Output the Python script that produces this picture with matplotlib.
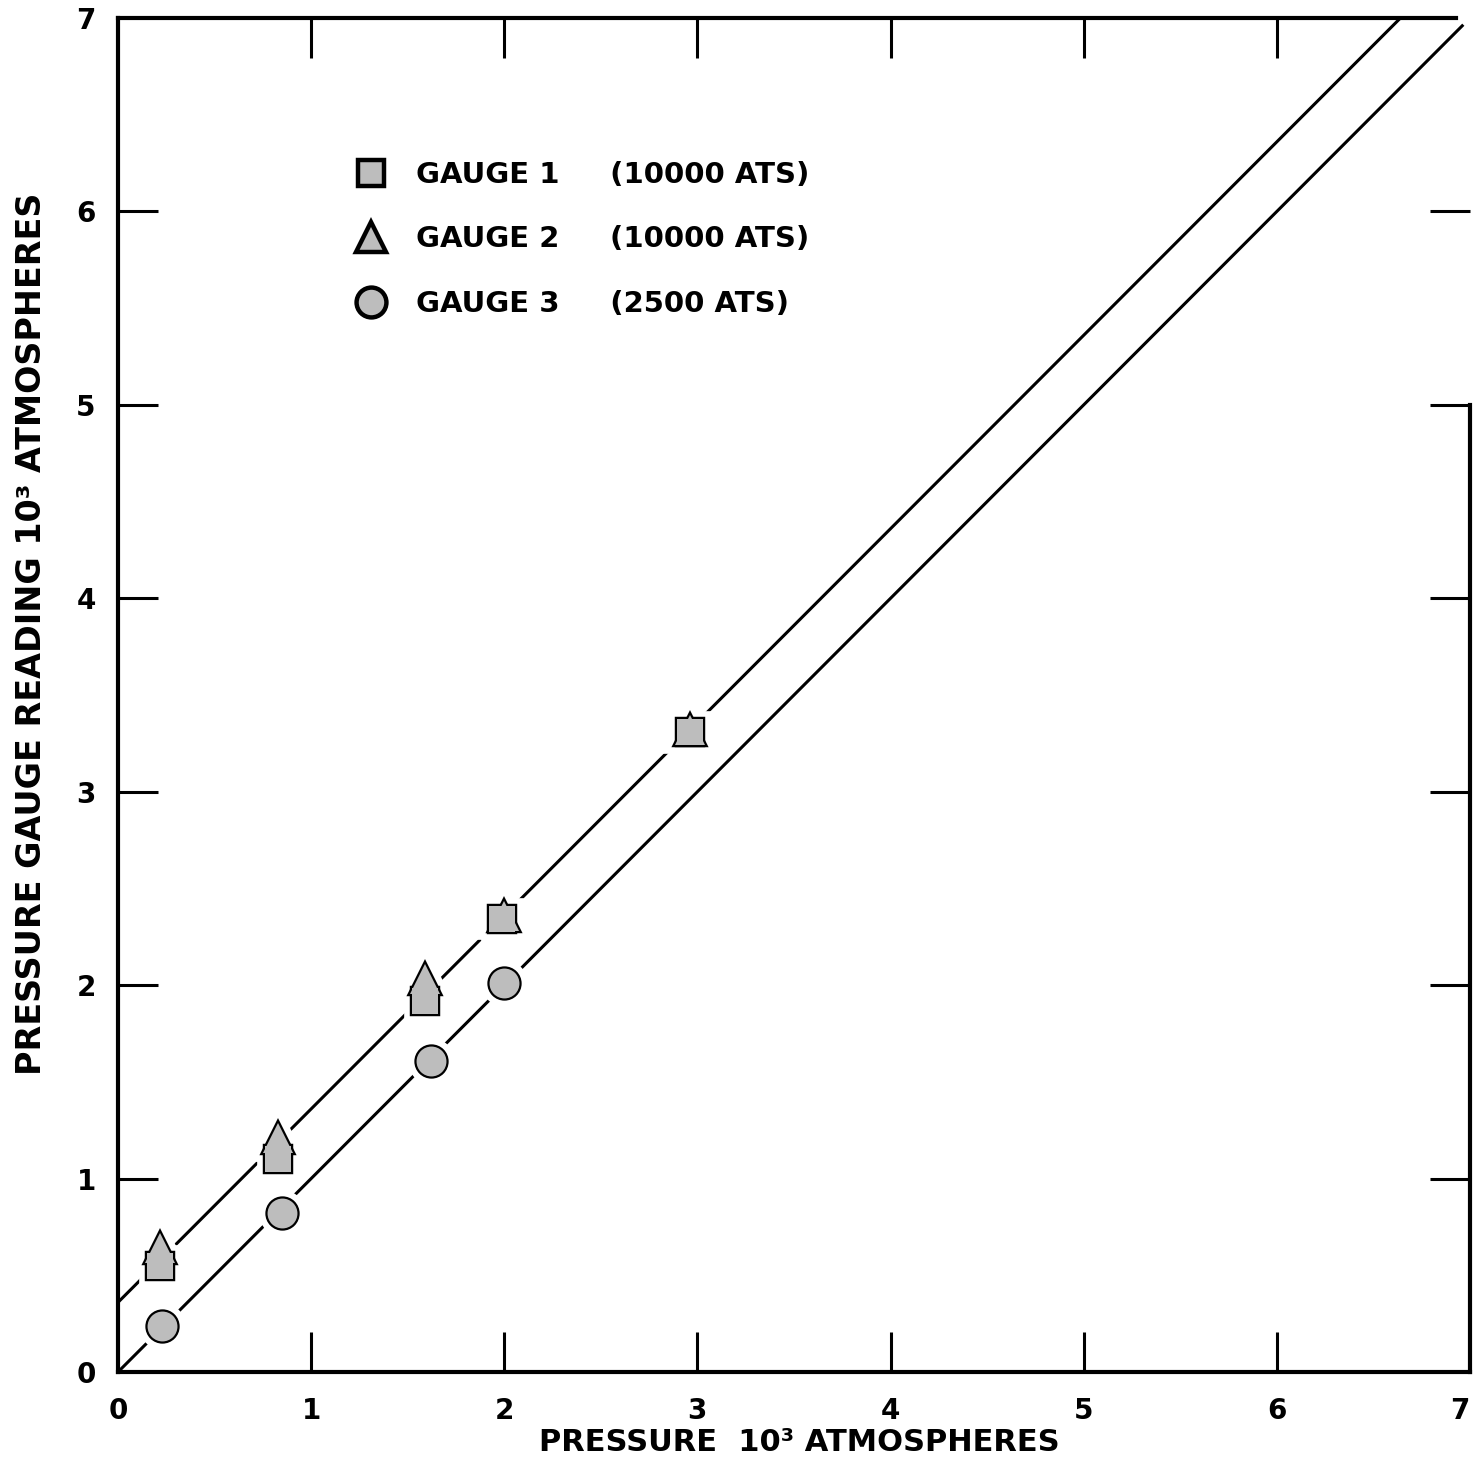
import numpy as np
import matplotlib.pyplot as plt

# readings (pressure, gauge reading), in 10^3 atmospheres
g1_x = [0.22, 0.83, 1.59, 1.99, 2.96]
g1_y = [0.55, 1.10, 1.92, 2.34, 3.31]
g2_x = [0.22, 0.83, 1.59, 2.00, 2.96]
g2_y = [0.64, 1.21, 2.03, 2.36, 3.32]
g3_x = [0.23, 0.85, 1.62, 2.00]
g3_y = [0.24, 0.82, 1.61, 2.01]

# calibration lines
upper_x = [0.0, 6.64]
upper_y = [0.36, 7.0]
lower_x = [0.0, 6.96]
lower_y = [0.0, 6.96]

ticks = list(range(8))
tick_labels = [str(t) for t in ticks]

fill = '#bdbdbd'
ink = 'black'

fig = plt.figure(figsize=(14.76, 14.57), dpi=100)
ax = fig.add_axes([0.0799, 0.0583, 0.916, 0.9293])

ax.plot(upper_x, upper_y, color=ink, lw=2.2, zorder=2)
ax.plot(lower_x, lower_y, color=ink, lw=2.2, zorder=2)

series = [
    (g1_x, g1_y, 's', 19, 'GAUGE 1     (10000 ATS)'),
    (g2_x, g2_y, '^', 22, 'GAUGE 2     (10000 ATS)'),
    (g3_x, g3_y, 'o', 21.5, 'GAUGE 3     (2500 ATS)'),
]

# white halo so the lines break around the points
for xs, ys, m, ms, _ in series:
    ax.plot(xs, ys, ls='none', marker=m, ms=ms, mfc='white', mec='white',
            mew=12, zorder=3)

handles = []
for xs, ys, m, ms, lab in series:
    h, = ax.plot(xs, ys, ls='none', marker=m, ms=ms, mfc=fill, mec=ink,
                 mew=3.2, zorder=4, label=lab)
    handles.append(h)

# fill-only pass merges overlapping square/triangle outlines
for xs, ys, m, ms, _ in series:
    ax.plot(xs, ys, ls='none', marker=m, ms=ms, mfc=fill, mec='none',
            mew=0, zorder=5)

leg = ax.legend(handles=handles, loc='upper left',
                bbox_to_anchor=(0.174, 0.8945), frameon=False,
                prop={'size': 21, 'weight': 'bold'},
                handlelength=1.2, handletextpad=0.95,
                labelspacing=1.25, borderpad=0, borderaxespad=0)

ax.set_xlim(0, 7)
ax.set_ylim(0, 7)
ax.set_xticks(ticks)
ax.set_yticks(ticks)
ax.set_xticklabels(tick_labels, fontsize=20, fontweight='bold')
ax.set_yticklabels(tick_labels, fontsize=20, fontweight='bold')
ax.get_xticklabels()[-1].set_ha('right')
ax.tick_params(axis='both', direction='in', length=29, width=2.2,
               top=True, right=True, color=ink)
ax.tick_params(axis='x', pad=18)
ax.tick_params(axis='y', pad=16)

for axis in (ax.xaxis, ax.yaxis):
    tk = axis.get_major_ticks()
    for t in (tk[0], tk[-1]):
        t.tick1line.set_visible(False)
        t.tick2line.set_visible(False)

for s in ax.spines.values():
    s.set_linewidth(3)
ax.spines['right'].set_bounds(0, 5)
ax.spines['top'].set_bounds(0, 6.93)

ax.set_xlabel('PRESSURE  10³ ATMOSPHERES', fontsize=22, fontweight='bold',
              va='center')
ax.set_ylabel('PRESSURE GAUGE READING 10³ ATMOSPHERES', fontsize=24,
              fontweight='bold', va='center')
ax.xaxis.set_label_coords(0.504, -0.052)
ax.yaxis.set_label_coords(-0.064, 0.545)

fig.savefig('out.png', dpi=100)
